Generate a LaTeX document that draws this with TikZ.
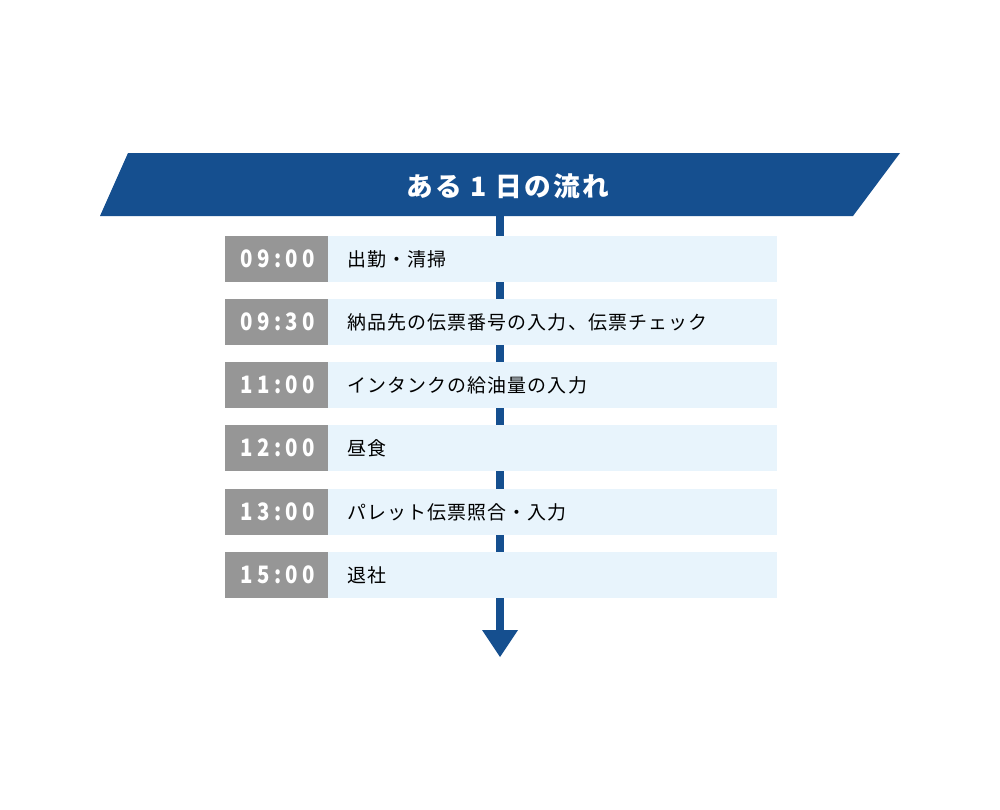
\documentclass[tikz,border=0pt]{standalone}
\usepackage{fontspec}
\setmainfont{Noto Sans CJK JP}
\newfontfamily\titlefont{Noto Sans CJK JP}[LetterSpace=9]
\newfontfamily\taskfont{Noto Sans CJK JP}[LetterSpace=6]
\newfontfamily\timefont{Noto Sans CJK JP}[LetterSpace=18, FakeStretch=0.85]
\definecolor{hdrblue}{HTML}{154F8F}
\definecolor{rowblue}{HTML}{E8F4FC}
\definecolor{timegray}{HTML}{969696}
\begin{document}
\begin{tikzpicture}[x=0.75pt,y=-0.75pt,
  timebox/.style={fill=timegray,draw=none,minimum width=77.25pt,minimum height=34.5pt,inner sep=0pt,anchor=north west},
  timetext/.style={text=white,font=\timefont\bfseries\fontsize{18}{20}\selectfont,inner sep=0pt},
  taskbox/.style={fill=rowblue,draw=none,minimum width=336.75pt,minimum height=34.5pt,inner sep=0pt,anchor=north west},
  tasktext/.style={anchor=west,text=black,font=\taskfont\fontsize{14.2}{16}\selectfont,inner sep=0pt},
  spine/.style={draw=hdrblue,line width=6pt}]
\useasboundingbox (0,0) rectangle (1000,810);
\fill[white] (0,0) rectangle (1000,810);
% header
\fill[hdrblue] (128,153) -- (900,153) -- (853,216) -- (100,216) -- cycle;
\node[text=white,font=\titlefont\bfseries\fontsize{20}{22}\selectfont] (title) at (508,186) {ある 1 日の流れ};
% spine
\coordinate (top) at (500,216);
\coordinate (tipbase) at (500,630);
\coordinate (tip) at (500,657);
\draw[spine] (top) -- (tipbase);
\fill[hdrblue] (482,630) -- (518,630) -- (tip) -- cycle;
% rows
\foreach \i/\y/\t/\task in {1/236/09:00/出勤・清掃,2/299/09:30/納品先の伝票番号の入力、伝票チェック,3/362/11:00/インタンクの給油量の入力,4/425/12:00/昼食,5/489/13:00/パレット伝票照合・入力,6/552/15:00/退社}{
  \node[taskbox] (task\i) at (328,\y) {};
  \node[timebox] (time\i) at (225,\y) {};
  \node[timetext] (tlabel\i) at ([xshift=0.75pt]time\i.center) {\t};
  \node[tasktext] (label\i) at ([xshift=19*0.75pt]task\i.west) {\task};
}
\end{tikzpicture}
\end{document}
